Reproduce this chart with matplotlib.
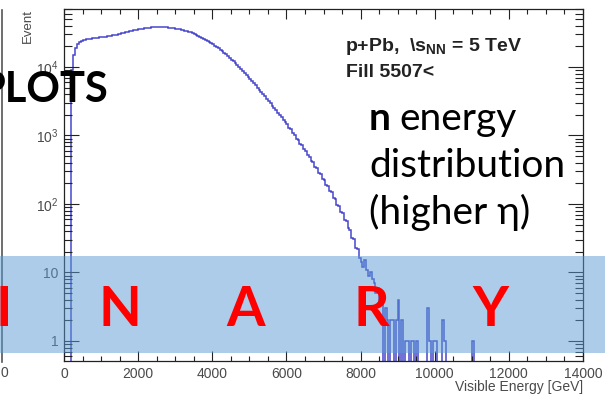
import numpy as np
import matplotlib
matplotlib.use('Agg')
import matplotlib.pyplot as plt
from matplotlib.patches import Rectangle
from matplotlib.ticker import FixedLocator, FixedFormatter, MultipleLocator, LogLocator, NullFormatter

plt.rcParams['font.family'] = ['Liberation Sans', 'DejaVu Sans']
plt.rcParams['mathtext.fontset'] = 'custom'
plt.rcParams['mathtext.rm'] = 'Liberation Sans'
plt.rcParams['mathtext.bf'] = 'Liberation Sans:bold'

# histogram: 50 GeV bins from 200 GeV, one row per 500 GeV
bin_start, bin_width = 200, 50
counts_main = [
    9000, 15000, 19000, 21500, 23000, 24000, 24600, 25000, 25300, 25600,
    25900, 26100, 26300, 26500, 26700, 26900, 27100, 27300, 27500, 27800,
    28100, 28500, 28900, 29300, 29700, 30200, 30700, 31200, 31700, 32200,
    32700, 33200, 33700, 34200, 34700, 35100, 35500, 35900, 36300, 36600,
    36900, 37200, 37400, 37600, 37800, 37900, 38000, 38000, 38000, 37900,
    37800, 37600, 37400, 37200, 36900, 36600, 36200, 35800, 35400, 34900,
    34400, 33800, 33200, 32500, 31800, 31000, 30200, 29400, 28500, 27600,
    26700, 25800, 24900, 24000, 23100, 22200, 21300, 20400, 19500, 18600,
    17700, 16800, 16000, 15200, 14400, 13600, 12800, 12100, 11400, 10700,
    10000, 9400, 8800, 8250, 7700, 7200, 6700, 6250, 5800, 5400,
    5000, 4650, 4300, 4000, 3700, 3420, 3170, 2930, 2710, 2510,
    2320, 2150, 1990, 1840, 1700, 1570, 1470, 1300, 1230, 1090,
    1030, 900, 860, 750, 715, 625, 595, 515, 490, 420,
    405, 345, 335, 285, 275, 235, 226, 190, 183, 152,
    149, 122, 119, 97, 94, 76, 73, 58, 56, 44,
    42, 32, 31, 23, 22, 16]
# sparse tail from 8000 GeV, same binning
counts_tail = [
    14, 12, 15, 11, 9, 10, 8, 7, 5, 6,
    4, 5, 0, 3, 2, 0, 2, 2, 0, 2,
    4, 0, 2, 0, 1, 1, 0, 1, 1, 0,
    1, 0, 0, 0, 0, 0, 3, 1, 0, 1,
    1, 0, 0, 0, 2, 1, 0, 0, 0, 0,
    0, 0, 0, 0, 0, 0, 0, 0, 0, 0,
    1, 0]

x_ticks = [0, 2000, 4000, 6000, 8000, 10000, 12000, 14000]
y_ticks = [1, 10, 100, 1000, 10000]
y_labels = ['1', '10', r'$\mathregular{10^{2}}$', r'$\mathregular{10^{3}}$', r'$\mathregular{10^{4}}$']

W, H = 605, 396
fig = plt.figure(figsize=(W / 100, H / 100), dpi=100)
ax = fig.add_axes([64 / W, 1 - 361 / H, (583 - 64) / W, (361 - 9) / H])

counts = np.array([0] + counts_main + counts_tail, dtype=float)
edges = np.concatenate([[0], bin_start + bin_width * np.arange(len(counts))])
counts = np.where(counts > 0, counts, 1e-3)  # empty bins drop below the axis

ax.stairs(counts, edges, baseline=None, color='#4646cc', lw=1.1)

ax.set_yscale('log')
ax.set_xlim(0, 14000)
ax.set_ylim(0.51, 7.0e4)

gray = '#4a4a4a'
ax.xaxis.set_major_locator(FixedLocator(x_ticks))
ax.xaxis.set_minor_locator(MultipleLocator(500))
ax.yaxis.set_major_locator(FixedLocator(y_ticks))
ax.yaxis.set_major_formatter(FixedFormatter(y_labels))
ax.yaxis.set_minor_locator(LogLocator(base=10, subs=np.arange(2, 10)))
ax.yaxis.set_minor_formatter(NullFormatter())

ax.tick_params(which='both', direction='in', top=True, right=True, width=0.8, color='#222222',
               labelcolor=gray, labelsize=10)
ax.tick_params(axis='x', which='major', length=7.5, pad=4)
ax.tick_params(axis='x', which='minor', length=3.6)
ax.tick_params(axis='y', which='major', length=11, pad=4)
ax.tick_params(axis='y', which='minor', length=5.5)
for s in ax.spines.values():
    s.set_linewidth(0.9)
    s.set_color('#222222')

fig.text(583 / W, 1 - 387 / H, 'Visible Energy [GeV]', ha='right', va='center', fontsize=10, color=gray)
fig.text(28 / W, 1 - 9 / H, 'Event', ha='center', va='top', rotation=90, fontsize=9.5, color=gray)

fig.text(345 / W, 1 - 51 / H, r'p+Pb,  \s$_{\mathbf{NN}}$ = 5 TeV', ha='left', va='baseline',
         fontsize=14, fontweight='bold', color='#222222')
fig.text(346 / W, 1 - 77 / H, 'Fill 5507<', ha='left', va='baseline',
         fontsize=14, fontweight='bold', color='#222222')

# neighbour panel edge on the left
fig.add_artist(plt.Line2D([1.5 / W, 1.5 / W], [1 - 10 / H, 1 - 362 / H], color='#555555', lw=1.2))
fig.text(4 / W, 1 - 373 / H, '0', ha='center', va='center', fontsize=10, color=gray)

# slide overlays
slide_font = ['Lato', 'DejaVu Sans']
fig.text(108 / W, 1 - 102 / H, 'PLOTS', ha='right', va='baseline', fontsize=30,
         fontweight='bold', family=slide_font, color='black', zorder=6)
fig.text(369 / W, 1 - 130 / H, 'n', ha='left', va='baseline', fontsize=28,
         fontweight='bold', family=slide_font, color='black', zorder=6)
fig.text(399 / W, 1 - 130 / H, 'energy', ha='left', va='baseline', fontsize=28,
         family=slide_font, color='black', zorder=6)
fig.text(369 / W, 1 - 177 / H, 'distribution', ha='left', va='baseline', fontsize=28,
         family=slide_font, color='black', zorder=6)
fig.text(369 / W, 1 - 224 / H, '(higher \u03b7)', ha='left', va='baseline', fontsize=28,
         family=slide_font, color='black', zorder=6)

fig.add_artist(Rectangle((0, 1 - 353 / H), 1, (353 - 256) / H, transform=fig.transFigure,
                         facecolor='#5B9BD5', alpha=0.5, edgecolor='none', zorder=5))

for letter, xc in zip(['I', 'N', 'A', 'R', 'Y'], [4, 120, 246, 371, 490]):
    fig.text(xc / W, 1 - 326 / H, letter, ha='center', va='baseline', fontsize=40,
             fontweight='bold', family=slide_font, color='#ff0000', zorder=7)

fig.savefig('out.png', dpi=100)
